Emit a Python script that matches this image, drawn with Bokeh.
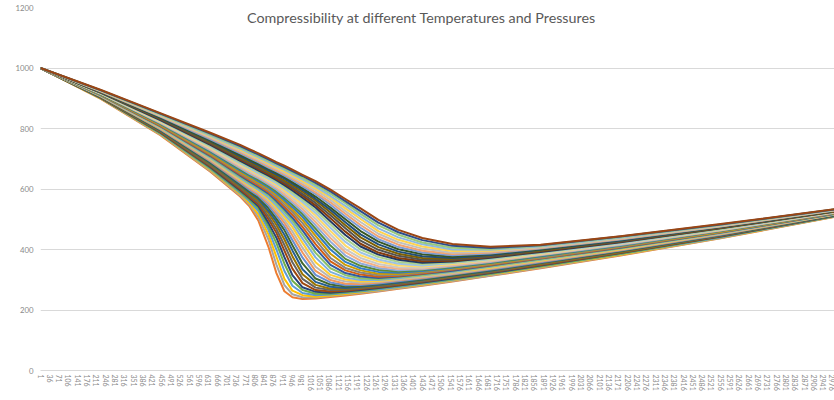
from bokeh.plotting import figure
from bokeh.models import Range1d, FixedTicker, Label
from bokeh.embed import file_html
from bokeh.resources import INLINE

# ---------------- data ----------------
# category index of each sampled point (x axis is a category axis 1 ... ~3000)
x_index = [1, 226, 451, 639, 751, 785, 820, 857, 887, 917, 947, 985, 1034, 1090,
           1146, 1203, 1270, 1345, 1435, 1548, 1691, 1879, 2179, 2555, 2990]

# one list per curve, lowest curve first (values x 1000)
s00 = [1000, 899, 778, 657, 575, 544, 494, 409, 322, 262, 242, 236, 238, 243, 248, 254, 261, 270, 280, 294, 313, 338, 380, 437, 509]
s01 = [1000, 900, 780, 660, 579, 549, 506, 433, 350, 282, 252, 242, 241, 246, 251, 256, 263, 272, 282, 296, 314, 340, 382, 438, 510]
s02 = [1000, 900, 781, 663, 583, 554, 516, 450, 376, 303, 264, 249, 244, 248, 253, 259, 266, 274, 284, 298, 317, 342, 383, 439, 510]
s03 = [1000, 901, 783, 666, 587, 560, 526, 465, 400, 329, 280, 256, 249, 251, 256, 261, 268, 276, 287, 300, 319, 344, 385, 440, 511]
s04 = [1000, 902, 785, 669, 591, 565, 535, 477, 421, 353, 297, 266, 254, 254, 259, 264, 271, 279, 289, 302, 320, 345, 386, 442, 511]
s05 = [1000, 902, 787, 672, 595, 570, 542, 488, 439, 375, 315, 275, 260, 257, 261, 266, 273, 281, 291, 304, 322, 347, 388, 443, 512]
s06 = [1000, 903, 788, 675, 599, 574, 549, 500, 455, 396, 337, 289, 266, 261, 264, 269, 275, 283, 293, 307, 324, 349, 389, 444, 513]
s07 = [1000, 904, 790, 678, 604, 579, 555, 510, 468, 415, 358, 303, 274, 266, 267, 272, 278, 286, 295, 309, 326, 351, 391, 445, 513]
s08 = [1000, 904, 792, 682, 608, 584, 561, 520, 481, 433, 378, 318, 283, 270, 270, 274, 280, 288, 298, 311, 328, 353, 392, 446, 514]
s09 = [1000, 905, 794, 685, 612, 589, 566, 528, 492, 449, 397, 335, 293, 277, 273, 277, 283, 290, 300, 313, 330, 355, 394, 447, 514]
s10 = [1000, 906, 795, 688, 616, 593, 571, 537, 502, 464, 414, 354, 304, 284, 278, 280, 286, 293, 302, 315, 332, 357, 395, 448, 515]
s11 = [1000, 907, 797, 691, 620, 598, 577, 545, 512, 476, 431, 373, 316, 291, 282, 283, 288, 295, 304, 317, 334, 358, 397, 449, 516]
s12 = [1000, 907, 799, 694, 624, 603, 582, 553, 521, 488, 446, 390, 329, 299, 287, 286, 291, 298, 307, 319, 336, 360, 398, 450, 516]
s13 = [1000, 908, 801, 697, 628, 607, 587, 559, 529, 498, 460, 406, 343, 307, 294, 290, 293, 300, 309, 321, 338, 362, 400, 452, 517]
s14 = [1000, 909, 802, 700, 632, 612, 592, 566, 538, 508, 474, 422, 358, 316, 301, 294, 296, 303, 312, 324, 340, 364, 401, 453, 517]
s15 = [1000, 909, 804, 703, 636, 616, 597, 572, 545, 516, 486, 436, 374, 326, 307, 299, 299, 305, 314, 326, 343, 366, 403, 454, 518]
s16 = [1000, 910, 806, 706, 640, 621, 602, 579, 553, 525, 496, 450, 389, 338, 315, 305, 302, 308, 316, 328, 345, 368, 404, 455, 519]
s17 = [1000, 911, 808, 709, 644, 625, 606, 585, 560, 533, 505, 463, 404, 349, 322, 311, 306, 311, 319, 330, 347, 370, 406, 456, 519]
s18 = [1000, 911, 809, 712, 648, 630, 611, 590, 567, 541, 515, 475, 418, 361, 331, 317, 310, 313, 321, 333, 349, 371, 407, 457, 520]
s19 = [1000, 912, 811, 715, 652, 634, 616, 595, 574, 549, 524, 487, 432, 372, 339, 324, 315, 316, 324, 335, 351, 373, 409, 458, 520]
s20 = [1000, 913, 813, 718, 656, 638, 620, 601, 580, 557, 532, 498, 445, 386, 349, 331, 320, 319, 327, 337, 353, 375, 411, 459, 521]
s21 = [1000, 914, 815, 722, 661, 643, 625, 605, 586, 564, 540, 508, 457, 400, 359, 338, 326, 323, 329, 340, 355, 377, 412, 461, 522]
s22 = [1000, 914, 816, 725, 665, 647, 630, 610, 592, 571, 548, 517, 469, 413, 369, 346, 332, 327, 332, 342, 357, 379, 414, 462, 522]
s23 = [1000, 915, 818, 728, 669, 651, 635, 615, 598, 577, 555, 525, 480, 426, 380, 354, 339, 331, 335, 345, 359, 381, 415, 463, 523]
s24 = [1000, 916, 820, 731, 673, 656, 639, 620, 604, 583, 562, 534, 491, 438, 391, 363, 345, 336, 337, 347, 361, 383, 417, 464, 523]
s25 = [1000, 916, 821, 734, 677, 660, 643, 624, 609, 590, 569, 542, 502, 450, 401, 372, 352, 341, 340, 350, 364, 384, 418, 465, 524]
s26 = [1000, 917, 823, 737, 681, 665, 648, 630, 614, 595, 575, 550, 512, 461, 413, 381, 360, 347, 344, 352, 366, 386, 420, 466, 525]
s27 = [1000, 918, 825, 740, 685, 669, 652, 634, 619, 601, 582, 557, 521, 472, 425, 390, 367, 353, 347, 355, 368, 388, 421, 467, 525]
s28 = [1000, 918, 827, 743, 689, 673, 657, 639, 624, 607, 588, 564, 530, 483, 436, 400, 375, 359, 352, 357, 370, 390, 423, 468, 526]
s29 = [1000, 919, 828, 746, 693, 677, 661, 644, 629, 613, 595, 571, 539, 493, 448, 410, 383, 366, 356, 360, 373, 392, 424, 470, 526]
s30 = [1000, 920, 830, 749, 697, 682, 666, 648, 634, 618, 601, 578, 546, 503, 459, 419, 390, 372, 361, 363, 375, 394, 426, 471, 527]
s31 = [1000, 920, 832, 752, 701, 686, 670, 653, 639, 623, 606, 584, 554, 513, 470, 429, 399, 379, 366, 366, 377, 396, 427, 472, 528]
s32 = [1000, 921, 834, 755, 705, 690, 675, 657, 643, 628, 612, 591, 562, 522, 480, 440, 408, 386, 372, 369, 380, 397, 429, 473, 528]
s33 = [1000, 922, 835, 758, 709, 694, 679, 662, 648, 634, 618, 597, 568, 531, 490, 450, 417, 393, 378, 372, 382, 399, 430, 474, 529]
s34 = [1000, 922, 837, 761, 713, 698, 683, 667, 653, 639, 623, 603, 575, 539, 500, 461, 426, 401, 384, 376, 385, 401, 432, 475, 529]
s35 = [1000, 923, 839, 764, 718, 703, 688, 671, 658, 644, 629, 609, 583, 548, 509, 472, 434, 408, 390, 381, 387, 403, 433, 476, 530]
s36 = [1000, 924, 841, 768, 722, 707, 692, 675, 662, 649, 634, 615, 589, 556, 518, 481, 443, 416, 396, 385, 390, 405, 435, 477, 530]
s37 = [1000, 925, 842, 771, 726, 711, 696, 680, 667, 653, 639, 621, 596, 564, 527, 491, 452, 424, 403, 389, 393, 407, 436, 478, 531]
s38 = [1000, 925, 844, 774, 730, 715, 701, 685, 671, 658, 644, 626, 602, 571, 536, 501, 461, 432, 410, 395, 396, 409, 438, 480, 532]
s39 = [1000, 926, 846, 777, 734, 719, 705, 689, 676, 663, 649, 632, 608, 577, 544, 509, 470, 440, 417, 400, 399, 410, 439, 481, 532]
s40 = [1000, 927, 848, 780, 738, 724, 709, 693, 681, 667, 654, 637, 614, 585, 553, 518, 480, 449, 423, 406, 402, 412, 441, 482, 533]
s41 = [1000, 927, 849, 783, 742, 728, 714, 698, 685, 672, 659, 643, 620, 592, 560, 527, 489, 457, 431, 412, 405, 414, 443, 483, 533]
s42 = [1000, 928, 851, 786, 746, 732, 718, 702, 689, 677, 664, 647, 626, 598, 567, 536, 498, 465, 438, 418, 409, 416, 444, 484, 534]

series = [s00, s01, s02, s03, s04, s05, s06, s07, s08, s09, s10, s11, s12, s13, s14,
          s15, s16, s17, s18, s19, s20, s21, s22, s23, s24, s25, s26, s27, s28, s29,
          s30, s31, s32, s33, s34, s35, s36, s37, s38, s39, s40, s41, s42]

x_tick_labels = [1, 36, 71, 106, 141, 176, 211, 246, 281, 316, 351, 386, 421, 456, 491,
                 526, 561, 596, 631, 666, 701, 736, 771, 806, 841, 876, 911, 946, 981,
                 1016, 1051, 1086, 1121, 1156, 1191, 1226, 1261, 1296, 1331, 1366, 1401,
                 1436, 1471, 1506, 1541, 1576, 1611, 1646, 1681, 1716, 1751, 1786, 1821,
                 1856, 1891, 1926, 1961, 1996, 2031, 2066, 2101, 2136, 2171, 2206, 2241,
                 2276, 2311, 2346, 2381, 2416, 2451, 2486, 2521, 2556, 2591, 2626, 2661,
                 2696, 2731, 2766, 2801, 2836, 2871, 2906, 2941, 2976]
y_ticks = [0, 200, 400, 600, 800, 1000, 1200]
title_text = "Compressibility at different Temperatures and Pressures"

# ---------------- style ----------------
colors = ["#ED7D31", "#A5A5A5", "#FFC000", "#5B9BD5", "#70AD47",
          "#264478", "#9E480E", "#636363", "#997300", "#255E91", "#43682B",
          "#698ED0", "#F1975A", "#B7B7B7", "#FFCD33", "#7CAFDD", "#8CC168",
          "#335AA1", "#D26012", "#848484", "#CC9A00", "#327DC2", "#5A8A39",
          "#8FAADC", "#F4B183", "#C9C9C9", "#FFD966", "#9DC3E6", "#A9D18E",
          "#203864", "#843C0C", "#525252", "#7F6000", "#1F4E79", "#385723",
          "#7C9CD6", "#F2A46F", "#C0C0C0", "#FFD34D", "#8CB9E1", "#9AC97B",
          "#2C4F8C", "#9A4614"]

p = figure(width=834, height=400, output_backend="svg", toolbar_location=None,
           x_range=Range1d(1, 2983), y_range=Range1d(0, 1200),
           min_border_left=40, min_border_right=0, min_border_top=7,
           min_border_bottom=30)
p.background_fill_color = "white"
p.border_fill_color = "white"
p.outline_line_color = None

for vals, col in zip(series, colors):
    p.line(x_index, vals, line_color=col, line_width=2, line_join="round")

# x axis
p.xaxis.ticker = FixedTicker(ticks=x_tick_labels)
p.xaxis.major_label_orientation = "vertical"
p.xaxis.major_label_text_font = "Lato"
p.xaxis.major_label_text_font_size = "7px"
p.xaxis.major_label_text_color = "#8a8a8a"
p.xaxis.major_label_standoff = 4
p.xaxis.major_tick_out = 0
p.xaxis.major_tick_in = 0
p.xaxis.minor_tick_out = 0
p.xaxis.minor_tick_in = 0
p.xaxis.major_tick_line_color = None
p.xaxis.minor_tick_line_color = None
p.xaxis.axis_line_color = "#d9d9d9"
p.xgrid.visible = False

# y axis
p.yaxis.ticker = FixedTicker(ticks=y_ticks)
p.yaxis.major_label_text_font = "Lato"
p.yaxis.major_label_text_font_size = "7.8px"
p.yaxis.major_label_text_color = "#8a8a8a"
p.yaxis.major_label_standoff = 7
p.yaxis.major_tick_out = 0
p.yaxis.major_tick_in = 0
p.yaxis.minor_tick_out = 0
p.yaxis.minor_tick_in = 0
p.yaxis.axis_line_color = None
p.yaxis.major_tick_line_color = None
p.yaxis.minor_tick_line_color = None
p.ygrid.grid_line_color = "#d9d9d9"
p.ygrid.grid_line_width = 1

p.add_layout(Label(x=1432, y=1167, text=title_text, text_align="center",
                   text_baseline="middle", text_font="Lato",
                   text_font_size="14.3px", text_color="#595959"))

open("out.html", "w").write(file_html(p, INLINE))
